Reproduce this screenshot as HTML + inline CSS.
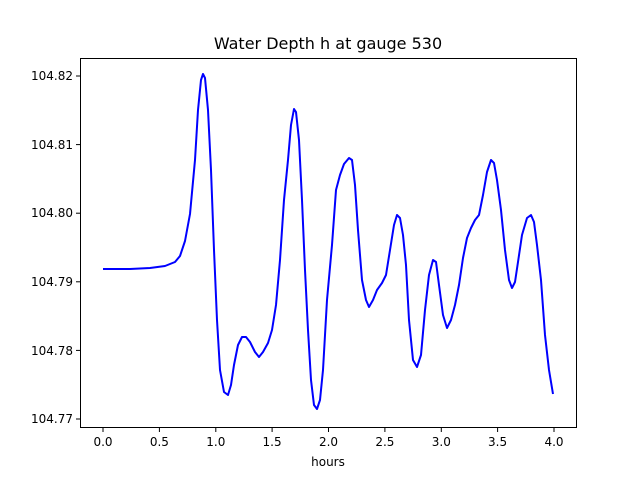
<!DOCTYPE html>
<html><head><style>body{margin:0;background:#fff}svg{display:block}</style></head><body>
<svg width="640" height="480" xmlns="http://www.w3.org/2000/svg" font-family="DejaVu Sans, Liberation Sans, sans-serif">
<rect width="640" height="480" fill="#fff"/>
<text x="328" y="49" font-size="16" text-anchor="middle">Water Depth h at gauge 530</text>
<polyline fill="none" stroke="#0000ff" stroke-width="2" stroke-linejoin="round" points="103,269 130,269 150,268 165,266 175,262 180,256 185,241 190,214 195,160 198,110 201,80 203,74 205,78 208,110 211,170 214,250 217,320 220,370 224,392 228,395 231,385 234,365 238,345 242,337 246,337 250,342 255,352 259,357 263,352 268,343 272,330 276,305 280,260 284,200 288,160 291,125 294,109 296,112 299,140 302,200 305,270 308,330 311,380 314,405 317,409 320,400 323,370 327,300 332,245 336,190 340,175 344,164 349,158 352,160 355,185 358,230 362,280 366,300 369,307 373,300 377,290 382,283 386,275 390,250 394,225 397,215 400,218 403,235 406,265 409,320 413,360 417,367 421,355 425,310 429,275 433,260 436,262 439,285 443,315 447,328 451,320 455,305 459,285 463,258 467,238 471,228 475,220 479,215 483,195 487,172 491,160 494,163 497,180 501,210 505,250 509,280 512,288 515,282 518,262 522,235 527,218 531,215 534,222 537,245 541,280 545,335 549,370 553,394"/>
<rect x="80.5" y="58.5" width="496" height="369" fill="none" stroke="#000" stroke-width="1"/>
<g stroke="#000" stroke-width="1">
<line x1="103" y1="428" x2="103" y2="432"/><line x1="159.4" y1="428" x2="159.4" y2="432"/><line x1="215.8" y1="428" x2="215.8" y2="432"/><line x1="272.1" y1="428" x2="272.1" y2="432"/><line x1="328.5" y1="428" x2="328.5" y2="432"/><line x1="384.9" y1="428" x2="384.9" y2="432"/><line x1="441.3" y1="428" x2="441.3" y2="432"/><line x1="497.6" y1="428" x2="497.6" y2="432"/><line x1="554" y1="428" x2="554" y2="432"/>
<line x1="76" y1="76" x2="80" y2="76"/><line x1="76" y1="144.6" x2="80" y2="144.6"/><line x1="76" y1="213.2" x2="80" y2="213.2"/><line x1="76" y1="281.8" x2="80" y2="281.8"/><line x1="76" y1="350.4" x2="80" y2="350.4"/><line x1="76" y1="419" x2="80" y2="419"/>
</g>
<g font-size="12" text-anchor="middle">
<text x="103" y="446">0.0</text><text x="159.4" y="446">0.5</text><text x="215.8" y="446">1.0</text><text x="272.1" y="446">1.5</text><text x="328.5" y="446">2.0</text><text x="384.9" y="446">2.5</text><text x="441.3" y="446">3.0</text><text x="497.6" y="446">3.5</text><text x="554" y="446">4.0</text>
<text x="328" y="466">hours</text>
</g>
<g font-size="12" text-anchor="end">
<text x="73" y="80">104.82</text><text x="73" y="149">104.81</text><text x="73" y="217">104.80</text><text x="73" y="286">104.79</text><text x="73" y="355">104.78</text><text x="73" y="423">104.77</text>
</g>
</svg>
</body></html>
